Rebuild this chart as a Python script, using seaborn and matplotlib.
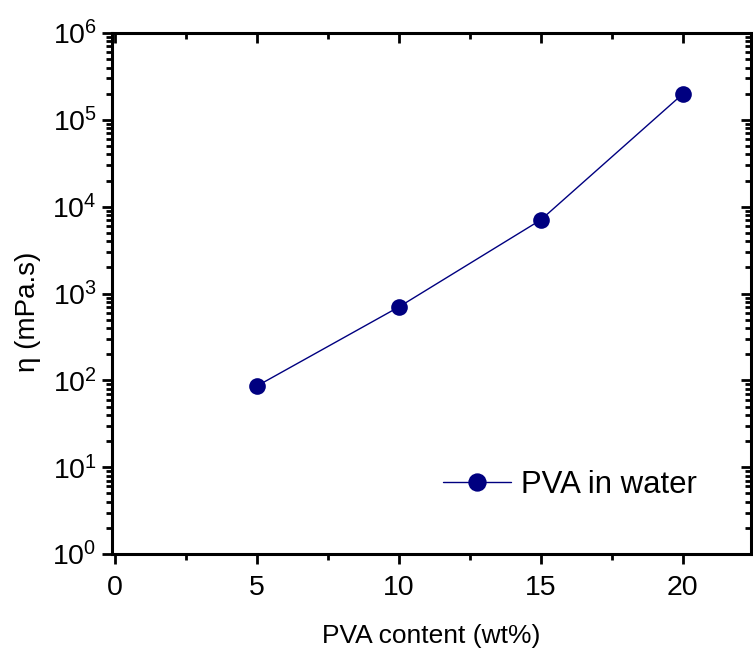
import numpy as np
import pandas as pd
import matplotlib
matplotlib.use("Agg")
import matplotlib.pyplot as plt
from matplotlib.ticker import LogLocator, MultipleLocator, NullFormatter
import seaborn as sns

# Viscosity of PVA solutions versus polymer content
pva_content = [5, 10, 15, 20]           # wt%
viscosity = [86, 700, 7050, 199000]     # mPa.s
series_label = "PVA in water"

df = pd.DataFrame({"content": pva_content, "eta": viscosity,
                   "series": [series_label] * len(pva_content)})

sns.set_theme(style="ticks")
plt.rcParams["font.family"] = ["Liberation Sans", "DejaVu Sans"]
plt.rcParams["mathtext.fontset"] = "custom"
plt.rcParams["mathtext.rm"] = "Liberation Sans"
plt.rcParams["mathtext.it"] = "Liberation Sans:italic"
for key in ["text.color", "axes.labelcolor", "xtick.color", "ytick.color",
            "xtick.labelcolor", "ytick.labelcolor"]:
    plt.rcParams[key] = "black"

fig = plt.figure(figsize=(7.53, 6.48), dpi=100)
ax = fig.add_axes([0.1487, 0.145, 0.8486, 0.804])

sns.lineplot(data=df, x="content", y="eta", hue="series",
             palette=["#000080"], marker="o", markersize=12,
             markeredgewidth=0, linewidth=1, ax=ax)

ax.set_yscale("log")
ax.set_xlim(-0.1, 22.4)
ax.set_ylim(1, 1e6)

ax.xaxis.set_major_locator(MultipleLocator(5))
ax.xaxis.set_minor_locator(MultipleLocator(2.5))
ax.yaxis.set_major_locator(LogLocator(base=10, numticks=10))
ax.yaxis.set_minor_locator(LogLocator(base=10, subs=np.arange(2, 10), numticks=20))
ax.yaxis.set_minor_formatter(NullFormatter())

for side in ["left", "right", "top", "bottom"]:
    ax.spines[side].set_visible(True)
    ax.spines[side].set_linewidth(2.2)
    ax.spines[side].set_color("black")

ax.tick_params(which="both", direction="out", color="black", width=2,
               labelsize=20.5, labelcolor="black")
ax.tick_params(which="major", length=7)
ax.tick_params(which="minor", length=4)
ax.tick_params(axis="x", which="major", pad=8)
ax.tick_params(axis="y", which="major", pad=4)

# Mirrored ticks pointing inward on top and right
top = ax.secondary_xaxis("top")
top.xaxis.set_major_locator(MultipleLocator(5))
top.xaxis.set_minor_locator(MultipleLocator(2.5))
top.tick_params(which="both", direction="in", width=2, labeltop=False)
top.tick_params(which="major", length=7)
top.tick_params(which="minor", length=4)
top.spines["top"].set_visible(False)

right = ax.secondary_yaxis("right")
right.yaxis.set_major_locator(LogLocator(base=10, numticks=10))
right.yaxis.set_minor_locator(LogLocator(base=10, subs=np.arange(2, 10), numticks=20))
right.yaxis.set_minor_formatter(NullFormatter())
right.tick_params(which="both", direction="in", width=2, labelright=False)
right.tick_params(which="major", length=7)
right.tick_params(which="minor", length=4)
right.spines["right"].set_visible(False)

ax.set_xlabel("PVA content (wt%)", fontsize=19, labelpad=17)
ax.set_ylabel("η (mPa.s)", fontsize=20)
ax.yaxis.set_label_coords(-0.111, 0.464)

leg = ax.legend(loc="center left", bbox_to_anchor=(0.518, 0.132), frameon=False,
                fontsize=22.4, handlelength=2.2, handletextpad=0.32,
                borderpad=0, borderaxespad=0, markerscale=1.1)
leg.set_title(None)
for t in leg.get_texts():
    t.set_color("black")

ax.set_facecolor("white")
fig.patch.set_facecolor("white")
fig.savefig("out.png", dpi=100)
